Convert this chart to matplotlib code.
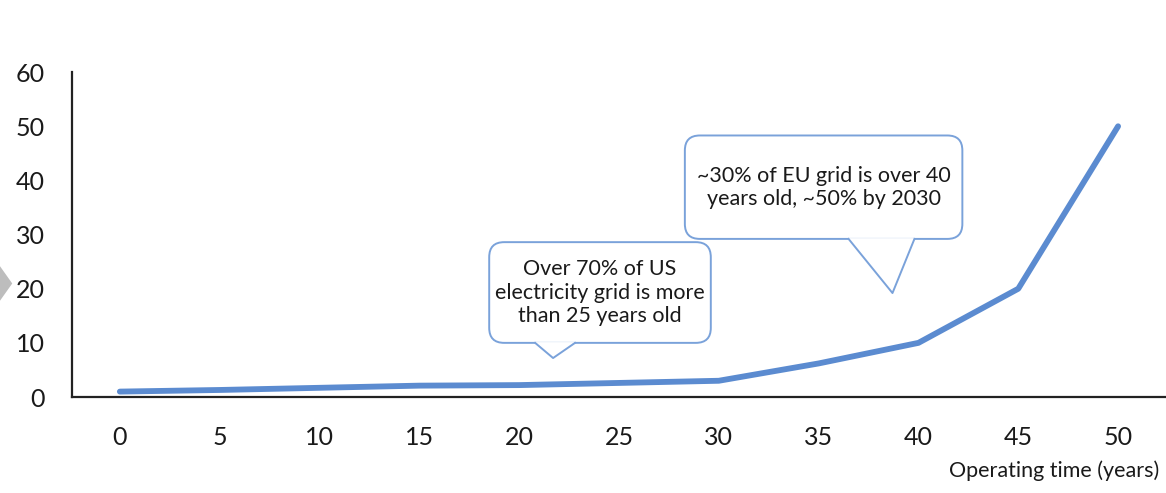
import numpy as np
from matplotlib import pyplot as plt
from matplotlib.patches import FancyBboxPatch, Polygon

# operating time vs failure/risk curve
years = [0, 5, 10, 15, 20, 25, 30, 35, 40, 45, 50]
values = [1.0, 1.3, 1.7, 2.1, 2.2, 2.6, 3.0, 6.2, 10.0, 20.0, 50.0]
y_ticks = [0, 10, 20, 30, 40, 50, 60]

note_us = "Over 70% of US\nelectricity grid is more\nthan 25 years old"
note_eu = "~30% of EU grid is over 40\nyears old, ~50% by 2030"

plt.rcParams['font.family'] = ['Lato', 'DejaVu Sans']

LINE_C = '#5b8bd0'
BOX_C = '#7aa2da'
TXT_C = '#1a1a1a'

fig = plt.figure(figsize=(11.66, 4.93), dpi=100)
ax = fig.add_axes([0.0617, 0.1947, 0.9383, 0.659])

ax.plot(years, values, color=LINE_C, lw=4.2, solid_capstyle='round', solid_joinstyle='round', zorder=2)

ax.set_xlim(-2.4, 52.4)
ax.set_ylim(0, 60)
ax.set_xticks(years)
ax.set_yticks(y_ticks)
ax.tick_params(length=0, labelsize=18, colors=TXT_C)
ax.tick_params(axis='x', pad=21)
ax.tick_params(axis='y', pad=19.5)
for s in ['top', 'right']:
    ax.spines[s].set_visible(False)
for s in ['left', 'bottom']:
    ax.spines[s].set_linewidth(1.6)
    ax.spines[s].set_color('#222222')

fig.text(0.994, 0.025, "Operating time (years)", ha='right', va='bottom', fontsize=15.5, color=TXT_C)


def callout(x0, x1, y0, y1, base, tip, text):
    # rounded box with a pointer tail
    box = FancyBboxPatch((x0, y0), x1 - x0, y1 - y0,
                         boxstyle='round,pad=0,rounding_size=0.75',
                         mutation_aspect=3.7, fc='white', ec=BOX_C, lw=1.4, zorder=3)
    ax.add_patch(box)
    cover = Polygon([(base[0], y0 + 0.15), (base[1], y0 + 0.15), tip], closed=True,
                    fc='white', ec='none', zorder=4)
    ax.add_patch(cover)
    ax.plot([base[0], tip[0], base[1]], [y0, tip[1], y0], color=BOX_C, lw=1.4, zorder=5)
    ax.text((x0 + x1) / 2, (y0 + y1) / 2, text, ha='center', va='center',
            fontsize=15.5, color=TXT_C, linespacing=1.2, zorder=6)


callout(28.3, 42.2, 29.2, 48.3, (36.5, 39.8), (38.7, 19.2), note_eu)
callout(18.5, 29.6, 10.0, 28.6, (20.8, 22.8), (21.7, 7.2), note_us)

# grey arrow artifact on the left edge
fig.patches.append(Polygon([(0, 0.46), (0.0105, 0.425), (0, 0.39)], closed=True,
                           fc='#bdbdbd', ec='none', transform=fig.transFigure, figure=fig))

fig.savefig('out.png', dpi=100)
